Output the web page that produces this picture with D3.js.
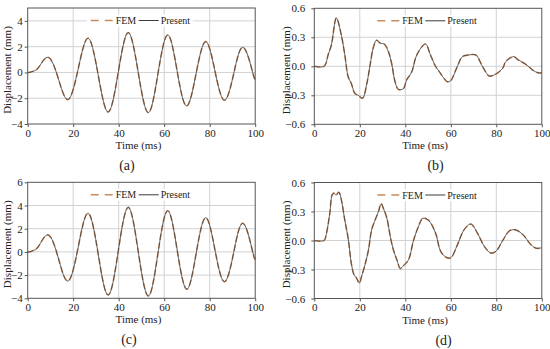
<!DOCTYPE html>
<html>
<head>
<meta charset="utf-8">
<script src="https://cdn.jsdelivr.net/npm/d3@7"></script>
<style>
  body { margin: 0; background: #fff; }
</style>
</head>
<body>
<svg id="chart" width="550" height="349"></svg>
<script>
// Shared time axis (ms)
var timeTicks = [0, 20, 40, 60, 80, 100];

// (a) displacement, FEM and Present overlap
var timeA = [0, 1, 2.5, 5, 9.1, 13.45, 17.8, 22.2, 26.6, 31.0, 35.4, 39.8, 44.2, 48.6, 53.0, 57.25, 61.5, 65.65, 69.8, 74.0, 78.2, 82.3, 86.4, 90.55, 94.7, 98.9, 100];
var dispA = [0, 0.01, 0.1, 0.44, 1.17, -0.47, -2.1, 0.28, 2.65, -0.21, -3.07, 0.01, 3.09, -0.02, -3.12, -0.1, 2.91, 0.15, -2.6, -0.1, 2.39, 0.12, -2.16, -0.1, 1.95, 0.0, -0.55];

// (b)
var timeB = [0, 4.3, 6.1, 7.5, 9.7, 11.9, 13.4, 14.9, 16.3, 17.8, 19.3, 21.2, 23, 24.5, 25.9, 27.4, 28.9, 30.8, 32.6, 34, 35.5, 37, 39.2, 40.6, 42.8, 45.1, 48.9, 51, 53.3, 54.8, 58.5, 59.9, 62.9, 65.1, 68, 71, 73.9, 76.9, 79.8, 82.8, 84.2, 87.6, 89.4, 93, 96.7, 99, 100];
var dispB = [0, 0, 0.12, 0.22, 0.5, 0.32, 0.12, -0.11, -0.18, -0.28, -0.3, -0.33, -0.19, 0.01, 0.19, 0.27, 0.24, 0.23, 0.15, 0.03, -0.16, -0.24, -0.23, -0.14, -0.06, 0.12, 0.23, 0.12, 0.0, -0.05, -0.16, -0.15, 0.0, 0.1, 0.117, 0.117, 0.0, -0.1, -0.08, -0.02, 0.05, 0.1, 0.07, 0.02, -0.05, -0.07, -0.065];

// (c)
var timeC = [0, 1, 2.5, 5, 9.1, 13.45, 17.8, 22.2, 26.6, 31.0, 35.4, 39.8, 44.2, 48.6, 53.0, 57.25, 61.5, 65.7, 69.9, 74.05, 78.2, 82.3, 86.4, 90.55, 94.7, 98.9, 100];
var dispC = [0, 0.01, 0.12, 0.55, 1.46, -0.52, -2.51, 0.41, 3.33, -0.2, -3.72, 0.06, 3.84, 0.02, -3.8, -0.12, 3.55, 0.16, -3.22, -0.13, 2.95, 0.19, -2.57, -0.05, 2.46, 0.0, -0.55];

// (d)
var timeD = [0, 4.3, 5.3, 6.8, 7.8, 8.5, 9.6, 10.8, 11.9, 13.4, 14.9, 16.3, 17.4, 18.6, 19.8, 20.8, 22.3, 23.8, 25.2, 26.7, 28.2, 29.4, 30.4, 31.9, 33.4, 34.8, 36.3, 37.8, 39.2, 41.4, 43.6, 45.8, 47.7, 50.2, 53.3, 55.5, 57.7, 59.9, 62.9, 65.8, 68.8, 71.7, 74.7, 77.6, 79.9, 82.8, 85.8, 88.5, 91.7, 95.3, 97.5, 100];
var dispD = [0, 0, 0.07, 0.28, 0.47, 0.49, 0.47, 0.5, 0.42, 0.21, 0.02, -0.24, -0.35, -0.39, -0.44, -0.37, -0.25, -0.1, 0.11, 0.21, 0.3, 0.38, 0.33, 0.23, 0.04, -0.1, -0.2, -0.29, -0.26, -0.2, 0.0, 0.145, 0.23, 0.21, 0.077, -0.11, -0.17, -0.18, -0.045, 0.11, 0.17, 0.077, -0.06, -0.13, -0.11, 0.0, 0.1, 0.11, 0.06, -0.045, -0.08, -0.075];

var ticksAC = [-4, -2, 0, 2, 4, 6];
var ticksBD = [-0.6, -0.3, 0, 0.3, 0.6];
var seriesNames = ['FEM', 'Present'];

var W = 227.5, H = 116;
var femColor = '#c98a5c', presentColor = '#3a3a3a';
var serif = '"Liberation Serif", Tinos, "Times New Roman", Times, "DejaVu Serif", serif';

var panels = [
  {left: 27.7, top: 8, t: timeA, d: dispA, domain: [-4, 5], ticks: ticksAC.slice(0, 5), fmt: d3.format('d'), curve: d3.curveNatural, name: '(a)', nameDx: -14.5, pad: 4},
  {left: 314.3, top: 8.3, t: timeB, d: dispB, domain: [-0.6, 0.6], ticks: ticksBD, fmt: d3.format('.1f'), curve: d3.curveCatmullRom, name: '(b)', nameDx: 7.5, pad: 8},
  {left: 27.7, top: 182.3, t: timeC, d: dispC, domain: [-4, 6], ticks: ticksAC, fmt: d3.format('d'), curve: d3.curveNatural, name: '(c)', nameDx: -12.5, pad: 4},
  {left: 314.3, top: 182.5, t: timeD, d: dispD, domain: [-0.6, 0.6], ticks: ticksBD, fmt: d3.format('.1f'), curve: d3.curveCatmullRom, name: '(d)', nameDx: 15.5, pad: 8}
];

var svg = d3.select('#chart');

function label(sel, size) {
  return sel.style('font-family', serif).style('font-size', size + 'px').style('fill', '#222');
}

function drawPanel(p) {
  var g = svg.append('g').attr('transform', 'translate(' + p.left + ',' + p.top + ')');
  var x = d3.scaleLinear().domain([0, 100]).range([0, W]);
  var y = d3.scaleLinear().domain(p.domain).range([H, 0]);

  // grid
  g.selectAll('.vgrid').data(timeTicks.slice(1, -1)).enter().append('line')
      .attr('x1', function (d) { return x(d); }).attr('x2', function (d) { return x(d); })
      .attr('y1', 0).attr('y2', H)
      .attr('stroke', '#d2d2d2').attr('stroke-width', 1);
  g.selectAll('.hgrid').data(p.ticks.filter(function (v) {
    return v > p.domain[0] + 1e-9 && v < p.domain[1] - 1e-9;
  })).enter().append('line')
      .attr('x1', 0).attr('x2', W)
      .attr('y1', function (d) { return y(d); }).attr('y2', function (d) { return y(d); })
      .attr('stroke', '#d2d2d2').attr('stroke-width', 1);

  var pts = p.t.map(function (t, i) { return [t, p.d[i]]; });
  var line = d3.line()
      .x(function (d) { return x(d[0]); })
      .y(function (d) { return y(d[1]); })
      .curve(p.curve);

  g.append('path').attr('d', line(pts))
      .attr('fill', 'none').attr('stroke', femColor)
      .attr('stroke-width', 1.6).attr('stroke-dasharray', '6,3');
  g.append('path').attr('d', line(pts))
      .attr('fill', 'none').attr('stroke', presentColor)
      .attr('stroke-width', 0.8);

  // legend with white backing over the grid
  var lg = g.append('g').attr('transform', 'translate(61,12.5)');
  lg.append('rect').attr('x', -2).attr('y', -6).attr('width', 106).attr('height', 12).attr('fill', '#fff');
  lg.append('line').attr('x1', 2).attr('x2', 24).attr('y1', 0).attr('y2', 0)
      .attr('stroke', femColor).attr('stroke-width', 1.6).attr('stroke-dasharray', '8,6');
  label(lg.append('text').attr('x', 27).attr('y', 3.5), 10).text(seriesNames[0]);
  lg.append('line').attr('x1', 50).attr('x2', 70).attr('y1', 0).attr('y2', 0)
      .attr('stroke', presentColor).attr('stroke-width', 1);
  label(lg.append('text').attr('x', 72).attr('y', 3.5), 10).text(seriesNames[1]);

  // frame
  g.append('rect').attr('width', W).attr('height', H)
      .attr('fill', 'none').attr('stroke', '#555').attr('stroke-width', 1);

  var xAxis = g.append('g').attr('transform', 'translate(0,' + H + ')')
      .call(d3.axisBottom(x).tickValues(timeTicks).tickSize(3).tickPadding(2));
  var yAxis = g.append('g')
      .call(d3.axisLeft(y).tickValues(p.ticks).tickFormat(p.fmt).tickSize(3).tickPadding(p.pad - 2));
  [xAxis, yAxis].forEach(function (a) {
    a.select('.domain').remove();
    a.selectAll('.tick line').attr('stroke', '#555');
    label(a.selectAll('.tick text'), 11);
  });

  label(g.append('text').attr('x', W / 2 - 3).attr('y', H + 25)
      .attr('text-anchor', 'middle'), 11).text('Time (ms)');
  label(g.append('text')
      .attr('transform', 'translate(' + (p.pad === 4 ? -16.5 : -24) + ',' + (H / 2 + 4) + ') rotate(-90)')
      .attr('text-anchor', 'middle'), 11).text('Displacement (mm)');
  label(g.append('text').attr('x', W / 2 + p.nameDx).attr('y', H + 46)
      .attr('text-anchor', 'middle'), 14).text(p.name);
}

panels.forEach(drawPanel);
</script>
</body>
</html>
